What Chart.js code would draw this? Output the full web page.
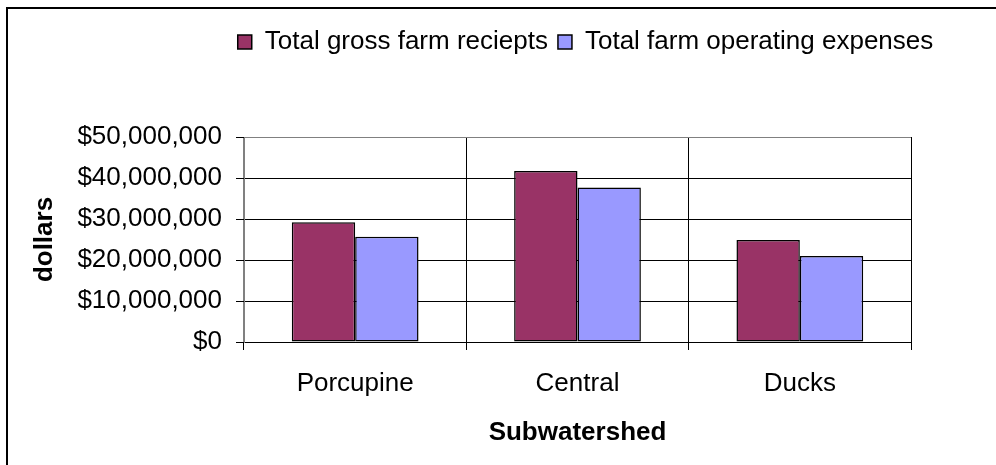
<!DOCTYPE html>
<html>
<head>
<meta charset="utf-8">
<script src="https://cdn.jsdelivr.net/npm/chart.js@4/dist/chart.umd.min.js"></script>
<style>
  html, body { margin: 0; padding: 0; background: #ffffff; }
  #wrap { width: 996px; height: 465px; position: relative; }
</style>
</head>
<body>
<div id="wrap"><canvas id="farmChart"></canvas></div>
<script>
// data
const categories = ['Porcupine', 'Central', 'Ducks'];
const grossReceipts = [29200000, 41700000, 24900000];
const operatingExpenses = [25700000, 37700000, 21000000];
const seriesNames = ['Total gross farm reciepts', 'Total farm operating expenses'];
const yTicks = [0, 10000000, 20000000, 30000000, 40000000, 50000000];

const FONT = '"Liberation Sans", Arial, sans-serif';

// outer frame (top + left edges like the original) and legend placement
const framePlugin = {
    id: 'frame',
    beforeDraw(chart) {
        const lg = chart.legend;
        if (lg) {
            const dx = 585.5 - (lg.left + lg.right) / 2;
            const dy = 19 - lg.top;
            lg.left += dx; lg.right += dx;
            lg.top += dy; lg.bottom += dy;
        }
        const ctx = chart.ctx;
        ctx.save();
        ctx.strokeStyle = '#000000';
        ctx.lineWidth = 2;
        ctx.beginPath();
        ctx.moveTo(7, 470);
        ctx.lineTo(7, 8);
        ctx.lineTo(1000, 8);
        ctx.stroke();
        ctx.restore();
    }
};

const ctx = document.getElementById('farmChart').getContext('2d');
new Chart(ctx, {
    type: 'bar',
    data: {
        labels: categories,
        datasets: [{
            label: seriesNames[0],
            data: grossReceipts,
            backgroundColor: '#993366',
            borderColor: '#000000',
            borderWidth: 1.5,
            borderSkipped: false
        }, {
            label: seriesNames[1],
            data: operatingExpenses,
            backgroundColor: '#9999ff',
            borderColor: '#000000',
            borderWidth: 1.5,
            borderSkipped: false
        }]
    },
    options: {
        responsive: true,
        maintainAspectRatio: false,
        animation: false,
        datasets: {
            bar: { categoryPercentage: 0.57, barPercentage: 1 }
        },
        layout: {
            padding: { left: 10, right: 85, top: 91, bottom: 0 }
        },
        plugins: {
            legend: {
                display: true,
                position: 'top',
                align: 'center',
                labels: {
                    color: '#000000',
                    font: { family: FONT, size: 26 },
                    boxWidth: 14,
                    boxHeight: 14,
                    padding: 10
                }
            },
            tooltip: { enabled: false }
        },
        scales: {
            x: {
                offset: true,
                grid: {
                    offset: true,
                    color: function(c) {
                        return (c.index === 0 || c.index === categories.length) ? '#808080' : '#000000';
                    },
                    tickColor: '#000000',
                    tickLength: 8
                },
                border: { color: '#000000', width: 1 },
                ticks: {
                    color: '#000000',
                    font: { family: FONT, size: 26 },
                    padding: 18
                },
                title: {
                    display: true,
                    text: 'Subwatershed',
                    color: '#000000',
                    font: { family: FONT, size: 26, weight: 'bold' },
                    padding: { top: 4, bottom: 17 }
                },
                afterFit: function(s) { s.height = 123; }
            },
            y: {
                min: yTicks[0],
                max: yTicks[yTicks.length - 1],
                afterBuildTicks: function(s) {
                    s.ticks = yTicks.map(v => ({ value: v }));
                },
                grid: {
                    color: function(c) {
                        return c.tick && c.tick.value === yTicks[yTicks.length - 1] ? '#808080' : '#000000';
                    },
                    tickColor: '#000000',
                    tickLength: 8
                },
                border: { color: '#808080', width: 1 },
                ticks: {
                    color: '#000000',
                    font: { family: FONT, size: 26 },
                    padding: 14,
                    callback: function(value) {
                        return '$' + Number(value).toLocaleString('en-US');
                    }
                },
                title: {
                    display: true,
                    text: 'dollars',
                    color: '#000000',
                    font: { family: FONT, size: 26, weight: 'bold' },
                    padding: { top: 19, bottom: 4 }
                },
                afterFit: function(s) { s.width = 234; }
            }
        }
    },
    plugins: [framePlugin]
});
</script>
</body>
</html>
